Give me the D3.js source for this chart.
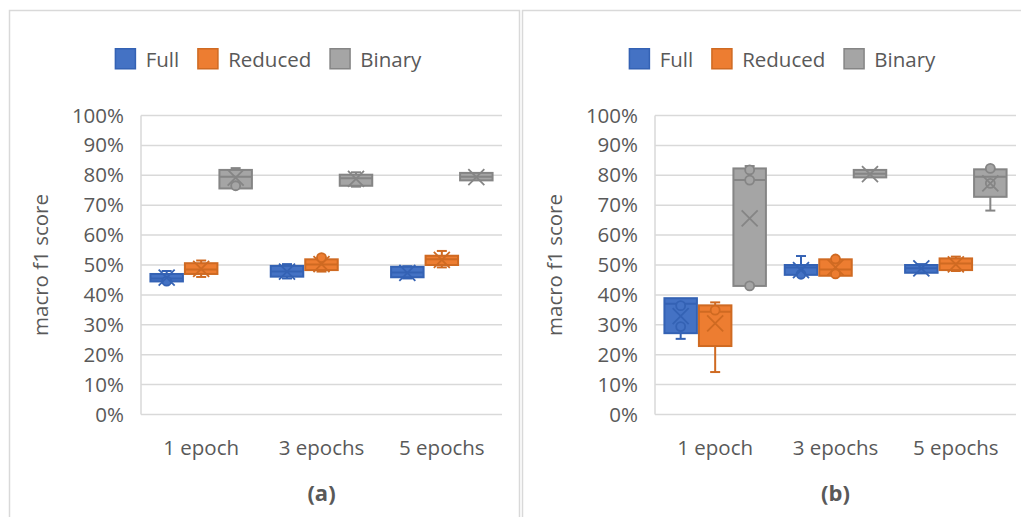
<!DOCTYPE html>
<html>
<head>
<meta charset="utf-8">
<script src="https://cdn.jsdelivr.net/npm/d3@7"></script>
<style>
  html, body { margin: 0; padding: 0; background: #fff; }
  svg { display: block; }
  text { font-family: "Open Sans", "Noto Sans", sans-serif; fill: #595959; }
</style>
</head>
<body>
<svg id="chart" width="1021" height="517"></svg>
<script>
// Categories, series and tick values
const categories = ["1 epoch", "3 epochs", "5 epochs"];
const seriesNames = ["Full", "Reduced", "Binary"];
const yTickValues = [0, 10, 20, 30, 40, 50, 60, 70, 80, 90, 100];
const panelLabels = ["(a)", "(b)"];

// Box statistics (macro f1, %), one entry per category
// (a)
const aFull = [
  { min: 44.0, q1: 44.5, med: 45.5, q3: 47.0, max: 48.0, mean: 45.8, pts: [44.6] },
  { min: 45.5, q1: 46.1, med: 47.8, q3: 49.7, max: 50.3, mean: 47.8, pts: [] },
  { min: 45.5, q1: 45.9, med: 47.5, q3: 49.4, max: 49.6, mean: 47.4, pts: [] }
];
const aReduced = [
  { min: 46.0, q1: 47.0, med: 48.5, q3: 50.6, max: 51.5, mean: 48.7, pts: [] },
  { min: 47.8, q1: 48.3, med: 50.2, q3: 51.9, max: 52.5, mean: 50.3, pts: [52.5] },
  { min: 49.2, q1: 50.0, med: 51.9, q3: 53.1, max: 54.7, mean: 51.7, pts: [] }
];
const aBinary = [
  { min: 75.6, q1: 75.6, med: 79.5, q3: 81.8, max: 82.4, mean: 79.2, pts: [76.5] },
  { min: 76.2, q1: 76.5, med: 79.0, q3: 80.2, max: 81.0, mean: 78.8, pts: [] },
  { min: 78.3, q1: 78.3, med: 79.5, q3: 80.8, max: 80.8, mean: 79.4, pts: [] }
];
// (b)
const bFull = [
  { min: 25.3, q1: 27.2, med: 37.0, q3: 38.9, max: 38.9, mean: 32.9, pts: [29.4, 36.4] },
  { min: 46.7, q1: 46.7, med: 49.2, q3: 50.0, max: 53.0, mean: 48.3, pts: [46.9] },
  { min: 47.2, q1: 47.4, med: 48.9, q3: 50.0, max: 50.3, mean: 48.9, pts: [] }
];
const bReduced = [
  { min: 14.2, q1: 22.9, med: 34.4, q3: 36.5, max: 37.5, mean: 30.5, pts: [34.9] },
  { min: 46.4, q1: 46.4, med: 48.5, q3: 51.9, max: 51.9, mean: 49.2, pts: [52.0, 47.0] },
  { min: 48.0, q1: 48.3, med: 50.5, q3: 52.2, max: 52.8, mean: 50.2, pts: [] }
];
const bBinary = [
  { min: 43.0, q1: 43.0, med: 78.4, q3: 82.3, max: 83.1, mean: 65.6, pts: [43.0, 78.4, 81.8] },
  { min: 79.3, q1: 79.3, med: 80.5, q3: 81.8, max: 81.8, mean: 80.4, pts: [] },
  { min: 68.2, q1: 72.8, med: 79.5, q3: 82.0, max: 82.3, mean: 77.3, pts: [82.3, 77.3] }
];

const panels = [
  { ox: 0,   label: panelLabels[0], series: [aFull, aReduced, aBinary] },
  { ox: 514, label: panelLabels[1], series: [bFull, bReduced, bBinary] }
];

const fills   = ["#4472C4", "#ED7D31", "#A5A5A5"];
const strokes = ["#3462B4", "#CF6A22", "#858585"];

const svg = d3.select("#chart");

// Panel frames
panels.forEach(p => {
  svg.append("rect")
    .attr("x", p.ox ? 522.5 : 9.5)
    .attr("y", 10.5)
    .attr("width", p.ox ? 520 : 510)
    .attr("height", 530)
    .attr("fill", "none")
    .attr("stroke", "#D9D9D9")
    .attr("stroke-width", 1.5);
});

const y = d3.scaleLinear().domain([0, 100]).range([414.5, 115.5]);

panels.forEach(p => {
  const g = svg.append("g").attr("transform", `translate(${p.ox},0)`);
  const x0 = 141, x1 = 502;

  const xBand = d3.scaleBand().domain(categories).range([x0, x1]).padding(0);
  const pad = xBand.bandwidth() * 0.07;
  const xInner = d3.scaleBand().domain(seriesNames)
    .range([pad, xBand.bandwidth() - pad]).padding(0);

  // Gridlines
  g.append("g").selectAll("line")
    .data(yTickValues)
    .join("line")
    .attr("x1", x0).attr("x2", x1)
    .attr("y1", d => y(d)).attr("y2", d => y(d))
    .attr("stroke", "#D9D9D9")
    .attr("stroke-width", 1.5);

  // Vertical axis line
  g.append("line")
    .attr("x1", x0).attr("x2", x0)
    .attr("y1", y(100)).attr("y2", y(0))
    .attr("stroke", "#D9D9D9").attr("stroke-width", 1.5);

  // Y axis labels
  const yAxis = d3.axisLeft(y).tickValues(yTickValues)
    .tickFormat(d => d + "%").tickSize(0).tickPadding(17);
  const ya = g.append("g").attr("transform", `translate(${x0},0)`).call(yAxis);
  ya.select(".domain").remove();
  ya.selectAll("text")
    .attr("font-size", 20.5)
    .attr("font-family", "'Open Sans', sans-serif")
    .attr("fill", "#595959");

  // Y axis title
  g.append("text")
    .attr("transform", `translate(40,${(y(0) + y(100)) / 2}) rotate(-90)`)
    .attr("text-anchor", "middle")
    .attr("dominant-baseline", "central")
    .attr("font-size", 20.5)
    .text("macro f1 score");

  // X axis labels
  const xAxis = d3.axisBottom(xBand).tickSize(0).tickPadding(0);
  const xa = g.append("g").attr("transform", `translate(0,${y(0)})`).call(xAxis);
  xa.select(".domain").remove();
  xa.selectAll("text")
    .attr("font-size", 20.5)
    .attr("font-family", "'Open Sans', sans-serif")
    .attr("fill", "#595959")
    .attr("y", 40).attr("dy", 0);

  // Panel label
  g.append("text")
    .attr("x", (x0 + x1) / 2)
    .attr("y", 501)
    .attr("text-anchor", "middle")
    .attr("font-size", 22)
    .attr("font-weight", "bold")
    .text(p.label);

  // Boxes
  p.series.forEach((stats, si) => {
    const name = seriesNames[si];
    const fill = fills[si], stroke = strokes[si];
    stats.forEach((s, ci) => {
      const left = xBand(categories[ci]) + xInner(name);
      const w = xInner.bandwidth();
      const cx = left + w / 2;
      const bg = g.append("g");
      const capW = 10;

      // whiskers
      [[s.q3, s.max], [s.q1, s.min]].forEach(([a, b]) => {
        if (Math.abs(a - b) < 0.05) return;
        bg.append("line").attr("x1", cx).attr("x2", cx)
          .attr("y1", y(a)).attr("y2", y(b))
          .attr("stroke", stroke).attr("stroke-width", 2);
        bg.append("line").attr("x1", cx - capW / 2).attr("x2", cx + capW / 2)
          .attr("y1", y(b)).attr("y2", y(b))
          .attr("stroke", stroke).attr("stroke-width", 2);
      });

      // box
      bg.append("rect")
        .attr("x", left + 1).attr("width", w - 2)
        .attr("y", y(s.q3)).attr("height", y(s.q1) - y(s.q3))
        .attr("fill", fill).attr("stroke", stroke).attr("stroke-width", 2);

      // median
      bg.append("line")
        .attr("x1", left + 1).attr("x2", left + w - 1)
        .attr("y1", y(s.med)).attr("y2", y(s.med))
        .attr("stroke", stroke).attr("stroke-width", 2);

      // inner points
      bg.selectAll("circle").data(s.pts).join("circle")
        .attr("cx", cx).attr("cy", d => y(d)).attr("r", 4.5)
        .attr("fill", fill).attr("stroke", stroke).attr("stroke-width", 1.8);

      // mean marker
      const m = 8, my = y(s.mean);
      bg.append("path")
        .attr("d", `M${cx - m},${my - m}L${cx + m},${my + m}M${cx - m},${my + m}L${cx + m},${my - m}`)
        .attr("stroke", stroke).attr("stroke-width", 1.8).attr("fill", "none");
    });
  });

  // Legend
  const lg = g.append("g");
  let cursor = 0;
  seriesNames.forEach((name, i) => {
    const it = lg.append("g");
    it.append("rect").attr("x", 0.75).attr("y", 0.75).attr("width", 20).attr("height", 20)
      .attr("fill", fills[i]).attr("stroke", strokes[i]).attr("stroke-width", 1.5);
    const t = it.append("text").attr("x", 31).attr("y", 10.5)
      .attr("dominant-baseline", "central").attr("font-size", 20.5).text(name);
    const tw = t.node().getComputedTextLength();
    it.attr("transform", `translate(${cursor},0)`);
    cursor += 31 + tw + 18;
  });
  const total = cursor - 18;
  lg.attr("transform", `translate(${268 - total / 2},48)`);
});
</script>
</body>
</html>
